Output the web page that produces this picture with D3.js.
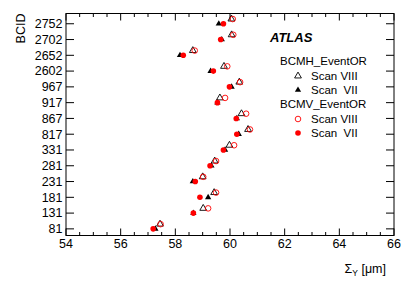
<!DOCTYPE html>
<html><head><meta charset="utf-8">
<script src="https://cdn.jsdelivr.net/npm/d3@7"></script>
<style>
html,body{margin:0;padding:0;background:#fff;}
svg{display:block;font-family:"Liberation Sans",Arial,Helvetica,sans-serif;}
</style></head><body>
<script>
const bcids = ["81","131","181","231","281","331","817","867","917","967","2602","2652","2702","2752"];
const bcmhScanVIII = [57.44,59.02,59.42,59.00,59.44,59.98,60.66,60.42,59.63,60.34,59.78,58.64,60.06,60.05];
const bcmhScanVII  = [57.27,58.66,59.20,58.64,59.32,59.82,60.32,60.25,59.54,60.06,59.29,58.17,59.70,59.59];
const bcmvScanVIII = [57.46,59.20,59.49,59.02,59.49,60.15,60.73,60.59,59.82,60.37,59.90,58.71,60.12,60.10];
const bcmvScanVII  = [57.19,58.66,58.90,58.73,59.27,59.76,60.25,60.23,59.54,59.98,59.39,58.29,59.66,59.76];
const xTicks = [54,56,58,60,62,64,66];

const W=415,H=281;
const L=66,R=394,T=13.5,B=235.5;
const svg=d3.select("body").append("svg").attr("width",W).attr("height",H);
const x=d3.scaleLinear().domain([54,66]).range([L,R]);
const y=d3.scaleLinear().domain([-0.42,13.65]).range([B,T]);
const idx=bcids.map((d,i)=>i);
const offVIII=0.3;

// frame
svg.append("rect").attr("x",L).attr("y",T).attr("width",R-L).attr("height",B-T)
  .attr("fill","none").attr("stroke","#000").attr("stroke-width",1);

// x ticks
const minor=d3.range(54,66.001,0.5);
const g=svg.append("g").attr("stroke","#000").attr("stroke-width",1);
minor.forEach(v=>{
  const major=xTicks.includes(v);
  const len=major?7:3.5;
  g.append("line").attr("x1",x(v)).attr("x2",x(v)).attr("y1",B).attr("y2",B-len);
  g.append("line").attr("x1",x(v)).attr("x2",x(v)).attr("y1",T).attr("y2",T+len);
});
// y ticks
idx.forEach(i=>{
  g.append("line").attr("x1",L).attr("x2",L+8).attr("y1",y(i)).attr("y2",y(i));
  g.append("line").attr("x1",R).attr("x2",R-8).attr("y1",y(i)).attr("y2",y(i));
});

// x tick labels
svg.append("g").selectAll("text").data(xTicks).join("text")
  .attr("x",d=>x(d)).attr("y",248).attr("text-anchor","middle")
  .attr("font-size",12.5).text(d=>d);
// y tick labels
svg.append("g").selectAll("text").data(bcids).join("text")
  .attr("x",62.5).attr("y",(d,i)=>y(i)+4.4).attr("text-anchor","end")
  .attr("font-size",12.5).text(d=>d);

// axis titles
svg.append("text").attr("transform","translate(25,13.5) rotate(-90)")
  .attr("text-anchor","end").attr("font-size",12.5).text("BCID");
const xt=svg.append("text").attr("x",386).attr("y",273).attr("text-anchor","end").attr("font-size",12.5);
xt.append("tspan").text("Σ");
xt.append("tspan").attr("font-size",8.5).attr("dy",2.5).text("Y");
xt.append("tspan").attr("dy",-2.5).text(" [μm]");

// data
const tri=d3.symbol().type(d3.symbolTriangle).size(17);
const triOpen=d3.symbol().type(d3.symbolTriangle).size(20);
svg.append("g").selectAll("path").data(idx).join("path")
  .attr("d",tri).attr("transform",i=>`translate(${x(bcmhScanVII[i])},${y(i)})`).attr("fill","#000");
svg.append("g").selectAll("path").data(idx).join("path")
  .attr("d",triOpen).attr("transform",i=>`translate(${x(bcmhScanVIII[i])},${y(i+offVIII)})`)
  .attr("fill","none").attr("stroke","#000").attr("stroke-width",0.9);
svg.append("g").selectAll("circle").data(idx).join("circle")
  .attr("cx",i=>x(bcmvScanVII[i])).attr("cy",i=>y(i)).attr("r",2.8).attr("fill","#ff0000");
svg.append("g").selectAll("circle").data(idx).join("circle")
  .attr("cx",i=>x(bcmvScanVIII[i])).attr("cy",i=>y(i+offVIII)).attr("r",2.8)
  .attr("fill","none").attr("stroke","#ff0000").attr("stroke-width",0.9);

// ATLAS label
svg.append("text").attr("x",270).attr("y",42).attr("font-size",13).attr("font-weight","bold")
  .attr("font-style","italic").text("ATLAS");

// legend
const lg=svg.append("g").attr("font-size",11.5);
lg.append("text").attr("x",280).attr("y",65).text("BCMH_EventOR");
lg.append("text").attr("x",280).attr("y",108).text("BCMV_EventOR");
const items=[
  {y:76,t:"Scan VIII",k:"triOpen"},
  {y:90,t:"Scan  VII",k:"tri"},
  {y:119,t:"Scan VIII",k:"circOpen"},
  {y:133,t:"Scan  VII",k:"circ"}];
items.forEach(it=>{
  const mx=298;
  if(it.k==="tri") lg.append("path").attr("d",tri).attr("transform",`translate(${mx},${it.y})`).attr("fill","#000");
  if(it.k==="triOpen") lg.append("path").attr("d",triOpen).attr("transform",`translate(${mx},${it.y})`).attr("fill","none").attr("stroke","#000").attr("stroke-width",0.9);
  if(it.k==="circ") lg.append("circle").attr("cx",mx).attr("cy",it.y).attr("r",2.8).attr("fill","#ff0000");
  if(it.k==="circOpen") lg.append("circle").attr("cx",mx).attr("cy",it.y).attr("r",2.8).attr("fill","none").attr("stroke","#ff0000").attr("stroke-width",0.9);
  lg.append("text").attr("x",311).attr("y",it.y+4).attr("xml:space","preserve").style("white-space","pre").text(it.t);
});
</script>
</body></html>
